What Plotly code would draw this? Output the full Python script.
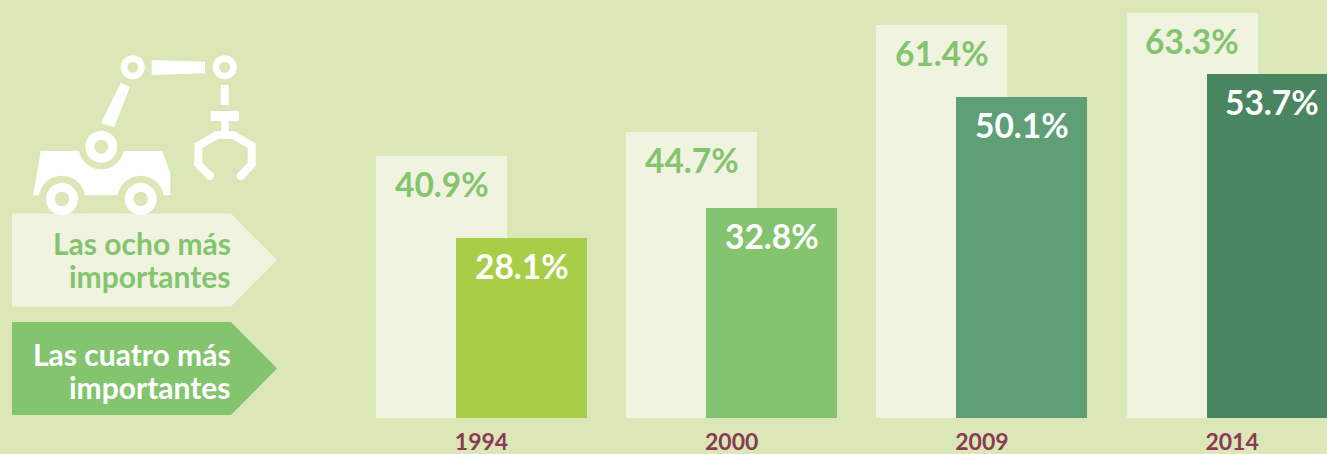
import plotly.graph_objects as go

years = ["1994", "2000", "2009", "2014"]
top_eight = [40.9, 44.7, 61.4, 63.3]
top_four = [28.1, 32.8, 50.1, 53.7]
top_four_colors = ["#A8CE47", "#84C46F", "#5E9F78", "#4A8562"]
legend_eight = ["Las ocho más", "importantes"]
legend_four = ["Las cuatro más", "importantes"]

W, H = 1327, 454
BASE = 418
BG = "#DBE7B7"
LIGHT = "#F0F3E0"
GREEN = "#84C46F"
WHITE = "#FFFFFF"
FONT = "Lato"
PX_PER_UNIT = 6.406
STEP = 250.2
FIRST = 481.5
BAR_W = 131 / STEP
OFF = 40 / STEP


def px(x):
    return x / W


def py(y):
    return (BASE - y) / BASE


def path(points, close=True):
    d = "M" + " L".join(f"{px(x):.5f},{py(y):.5f}" for x, y in points)
    return d + (" Z" if close else "")


def circle(cx, cy, r, color):
    return dict(type="circle", xref="paper", yref="paper", x0=px(cx - r), x1=px(cx + r),
                y0=py(cy + r), y1=py(cy - r), fillcolor=color, line_width=0)


def poly(points, color):
    return dict(type="path", xref="paper", yref="paper", path=path(points),
                fillcolor=color, line_width=0)


def rect(x0, y0, x1, y1, color):
    return poly([(x0, y0), (x1, y0), (x1, y1), (x0, y1)], color)


fig = go.Figure()
fig.add_bar(x=years, y=top_eight, width=BAR_W, offset=-OFF - BAR_W / 2,
            marker=dict(color=LIGHT, line_width=0), showlegend=False, name="Las ocho más importantes")
fig.add_bar(x=years, y=top_four, width=BAR_W, offset=OFF - BAR_W / 2,
            marker=dict(color=top_four_colors, line_width=0), showlegend=False, name="Las cuatro más importantes")

annotations = []
for i, (a, b) in enumerate(zip(top_eight, top_four)):
    for val, shift, col in ((a, -40, GREEN), (b, 40, WHITE)):
        annotations.append(dict(x=i, y=val, xref="x", yref="y", text=f"<b>{val:.1f}%</b>",
                                showarrow=False, xshift=shift, yshift=-28,
                                font=dict(family=FONT, size=33.5, color=col)))

for lines, ys, col in ((legend_eight, (243, 276), GREEN), (legend_four, (353.5, 386.5), WHITE)):
    for t, y in zip(lines, ys):
        annotations.append(dict(x=px(233), y=py(y), xref="paper", yref="paper", text=f"<b>{t}</b>",
                                showarrow=False, xanchor="right", yanchor="middle",
                                font=dict(family=FONT, size=30, color=col)))

shapes = [
    # robot body and the gaps around wheels and joint
    poly([(40.7, 151), (162.3, 151), (170.3, 173.3), (170.3, 195.3), (33.3, 195.3)], WHITE),
    circle(101.3, 146.7, 22.7, BG),
    circle(62, 199, 23.3, BG),
    circle(140.7, 199, 23.3, BG),
    # legend arrows
    poly([(12, 213.5), (231, 213.5), (277, 260), (231, 306.5), (12, 306.5)], LIGHT),
    poly([(12, 322), (231, 322), (277, 368.5), (231, 415), (12, 415)], GREEN),
    # wheels
    circle(62, 199, 16, WHITE), circle(62, 199, 7.3, BG),
    circle(140.7, 199, 16, WHITE), circle(140.7, 199, 7.3, BG),
    # joints
    circle(101.3, 146.7, 16, WHITE), circle(101.3, 146.7, 7, BG),
    circle(132.7, 67.3, 12, WHITE), circle(132.7, 67.3, 5.5, BG),
    circle(224.7, 67.3, 12, WHITE), circle(224.7, 67.3, 5.5, BG),
    # arms
    poly([(120.7, 82.7), (130, 86.7), (114.3, 127), (101, 123.3)], WHITE),
    poly([(151.7, 60), (205, 61.7), (205, 73.3), (151.7, 75)], WHITE),
    # gripper
    rect(220.7, 85, 228.7, 105, WHITE),
    rect(210.7, 111, 239, 121, WHITE),
    rect(221.3, 121, 228.7, 132, WHITE),
    dict(type="path", xref="paper", yref="paper",
         path=path([(210, 176), (198.3, 164.3), (198.3, 145.7), (216.7, 135), (233.3, 135),
                    (251.7, 145.7), (251.7, 164.3), (240.7, 176)], close=False),
         line=dict(color=WHITE, width=8), fillcolor="rgba(0,0,0,0)"),
    circle(210, 176, 4, WHITE),
    circle(240.7, 176, 4, WHITE),
]

fig.update_layout(
    width=W, height=H, autosize=False, barmode="overlay", bargap=0,
    margin=dict(l=0, r=0, t=0, b=H - BASE, pad=0),
    paper_bgcolor=BG, plot_bgcolor="rgba(0,0,0,0)", showlegend=False,
    annotations=annotations, shapes=shapes,
    xaxis=dict(type="category", categoryorder="array", categoryarray=years,
               range=[-FIRST / STEP, (W - FIRST) / STEP], automargin=False,
               showgrid=False, zeroline=False, showline=False,
               ticks="outside", ticklen=3, tickcolor="rgba(0,0,0,0)", tickwidth=0,
               tickfont=dict(family=FONT, size=23, color="#8A3A55"),
               tickprefix="<b>", ticksuffix="</b>"),
    yaxis=dict(range=[0, BASE / PX_PER_UNIT], visible=False, automargin=False),
)
fig.write_html("out.html", config=dict(displayModeBar=False),
               post_script="document.body.style.margin='0';document.body.style.overflow='hidden';")
